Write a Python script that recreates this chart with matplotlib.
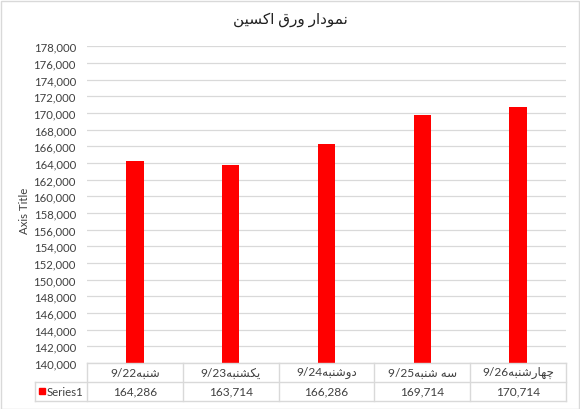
import matplotlib
matplotlib.use("Agg")
import matplotlib.pyplot as plt
from matplotlib.ticker import MultipleLocator, FuncFormatter
from matplotlib.patches import Rectangle

# ---- data ----
title = "نمودار ورق اکسین"
y_title = "Axis Title"
series_name = "Series1"
categories = ["شنبه9/22", "یکشنبه9/23", "دوشنبه9/24", "سه شنبه9/25", "چهارشنبه9/26"]
values = [164286, 163714, 166286, 169714, 170714]
y_min, y_max, y_step = 140000, 178000, 2000

# ---- minimal Arabic/Persian shaping + RTL ordering (matplotlib has no bidi) ----
FORMS = {
    'ا': (0xFE8D, 0xFE8E, None, None),
    'ب': (0xFE8F, 0xFE90, 0xFE91, 0xFE92),
    'چ': (0xFB7A, 0xFB7B, 0xFB7C, 0xFB7D),
    'د': (0xFEA9, 0xFEAA, None, None),
    'ر': (0xFEAD, 0xFEAE, None, None),
    'س': (0xFEB1, 0xFEB2, 0xFEB3, 0xFEB4),
    'ش': (0xFEB5, 0xFEB6, 0xFEB7, 0xFEB8),
    'ق': (0xFED5, 0xFED6, 0xFED7, 0xFED8),
    'ک': (0xFB8E, 0xFB8F, 0xFB90, 0xFB91),
    'ی': (0xFBFC, 0xFBFD, 0xFBFE, 0xFBFF),
    'م': (0xFEE1, 0xFEE2, 0xFEE3, 0xFEE4),
    'ن': (0xFEE5, 0xFEE6, 0xFEE7, 0xFEE8),
    'ه': (0xFEE9, 0xFEEA, 0xFEEB, 0xFEEC),
    'و': (0xFEED, 0xFEEE, None, None),
}


def shape(s):
    shaped = []
    for i, c in enumerate(s):
        if c not in FORMS:
            shaped.append(c)
            continue
        prev = s[i - 1] if i > 0 else None
        nxt = s[i + 1] if i + 1 < len(s) else None
        f = FORMS[c]
        jp = prev in FORMS and FORMS[prev][2] is not None
        jn = nxt in FORMS and f[2] is not None
        if jp and jn:
            g = f[3]
        elif jp:
            g = f[1]
        elif jn:
            g = f[2]
        else:
            g = f[0]
        shaped.append(chr(g))
    runs = []
    for c, g in zip(s, shaped):
        rtl = c in FORMS or c == ' '
        if runs and runs[-1][0] == rtl:
            runs[-1][1].append(g)
        else:
            runs.append([rtl, [g]])
    out = ""
    for rtl, chars in reversed(runs):
        out += "".join(reversed(chars)) if rtl else "".join(chars)
    return out


FONT = ['Lato', 'DejaVu Sans']
TXT = '#404040'
GRID = '#d9d9d9'
FS = 8.2

W, H = 580, 410
fig = plt.figure(figsize=(W / 100, H / 100), dpi=100)
fig.patch.set_facecolor('white')
fig.add_artist(Rectangle((0.5 / W, 0.5 / H), (W - 2) / W, (H - 2) / H,
                         transform=fig.transFigure, fill=False, ec=GRID, lw=1))

pl, pr, pt, pb = 87, 566, 47.3, 364
ax = fig.add_axes([pl / W, 1 - pb / H, (pr - pl) / W, (pb - pt) / H])
x = list(range(len(categories)))
ax.bar(x, values, width=0.18, color='#ff0000', zorder=3)
ax.set_xlim(-0.5, len(categories) - 0.5)
ax.set_ylim(y_min, y_max)
ax.yaxis.set_major_locator(MultipleLocator(y_step))
ax.yaxis.set_major_formatter(FuncFormatter(lambda v, p: f"{int(v):,}"))
ax.grid(axis='y', color=GRID, lw=0.9, zorder=0)
ax.set_xticks([])
for sp in ax.spines.values():
    sp.set_visible(False)
ax.tick_params(axis='y', length=0, pad=8, labelsize=FS, labelcolor=TXT)
for lab in ax.get_yticklabels():
    lab.set_family(FONT)
ax.set_ylabel(y_title, fontsize=FS, color=TXT, family=FONT)
ax.yaxis.set_label_coords((30 - pl) / (pr - pl), 0.483)

fig.text(0.5, 1 - 20 / H, shape(title), ha='center', va='center',
         fontsize=11, color='#202020', family=FONT)

# ---- data table under the plot ----
tl, tb = 35, 401.7
lab_w = (pl - tl) / ((pr - pl) / len(categories))
tax = fig.add_axes([tl / W, 1 - tb / H, (pr - tl) / W, (tb - pb) / H])
tax.set_xlim(-0.5 - lab_w, len(categories) - 0.5)
tax.set_ylim(0, 2)
tax.axis('off')
xl0 = -0.5 - lab_w
xr = len(categories) - 0.5
kw = dict(color=GRID, lw=1, clip_on=False)
tax.plot([-0.5, xr], [2, 2], **kw)
tax.plot([xl0, xr], [1, 1], **kw)
tax.plot([xl0, xr], [0, 0], **kw)
tax.plot([xl0, xl0], [0, 1], **kw)
for k in range(len(categories) + 1):
    tax.plot([k - 0.5, k - 0.5], [0, 2], **kw)
for i, (c, v) in enumerate(zip(categories, values)):
    tax.text(i, 1.5, shape(c), ha='center', va='center', fontsize=FS + 0.4,
             color=TXT, family=FONT)
    tax.text(i, 0.5, f"{v:,}", ha='center', va='center', fontsize=FS + 0.4,
             color=TXT, family=FONT)
tax.plot([xl0 + 0.075], [0.5], marker='s', ms=5, color='#ff0000', clip_on=False)
tax.text(xl0 + 0.12, 0.5, series_name, ha='left', va='center', fontsize=FS,
         color=TXT, family=FONT)

fig.savefig('out.png', dpi=100, facecolor='white')
